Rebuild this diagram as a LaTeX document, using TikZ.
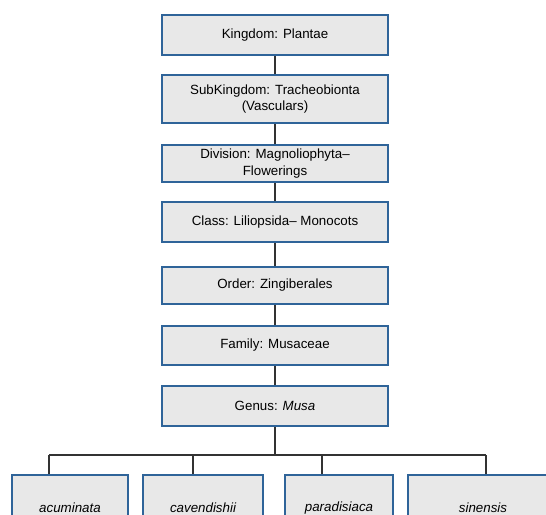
\documentclass[tikz,border=0pt]{standalone}
\usepackage{fontspec}
\setmainfont{Liberation Sans}
\usetikzlibrary{shapes}

\definecolor{rankblue}{HTML}{2F6499}
\definecolor{rankgray}{HTML}{E8E8E8}
\definecolor{linkgray}{HTML}{333333}

\tikzset{
    rank/.style={rectangle, draw=rankblue, line width=1.9pt, fill=rankgray,
        minimum width=169.5pt, minimum height=30pt, inner sep=2pt,
        align=center, font=\fontsize{10}{12.5}\selectfont},
    species/.style={rank, minimum height=49.5pt, font=\fontsize{10}{12.5}\selectfont\itshape},
    link/.style={draw=linkgray, line width=0.8pt}
}

\begin{document}
\begin{tikzpicture}[x=0.75pt, y=-0.75pt]
    \path [use as bounding box] (0,0) rectangle (546,514);
    \clip (0,0) rectangle (546,514);

    \node [rank] (kingdom) at (275,35) {Kingdom: Plantae};
    \node [rank, minimum height=36pt] (subkingdom) at (275,99) {SubKingdom: Tracheobionta\\(Vasculars)};
    \node [rank, minimum height=27.75pt] (division) at (275,163.5) {Division: Magnoliophyta--\\Flowerings};
    \node [rank] (class) at (275,222) {Class: Liliopsida-- Monocots};
    \node [rank, minimum height=27.75pt] (order) at (275,285.5) {Order: Zingiberales};
    \node [rank, minimum height=29.25pt] (family) at (275,345.5) {Family: Musaceae};
    \node [rank] (genus) at (275,406) {Genus: \textit{Musa}};

    \draw [link] (kingdom) -- (subkingdom);
    \draw [link] (subkingdom) -- (division);
    \draw [link] (division) -- (class);
    \draw [link] (class) -- (order);
    \draw [link] (order) -- (family);
    \draw [link] (family) -- (genus);

    \node [species, minimum width=87pt] (acuminata) at (70,508) {acuminata};
    \node [species, minimum width=90pt] (cavendishii) at (203,508) {cavendishii};
    \node [species, minimum width=81pt] (paradisiaca) at (339,508) {paradisiaca};
    \node [species, minimum width=112.5pt] (sinensis) at (483,508) {sinensis};

    % bus under the genus
    \coordinate (drop1) at (49,455);
    \coordinate (drop2) at (193,455);
    \coordinate (drop3) at (322,455);
    \coordinate (drop4) at (486,455);

    \draw [link] (genus) -- (genus |- drop1);
    \draw [link] (drop1) -- (drop4);
    \draw [link] (drop1) -- (drop1 |- acuminata.north);
    \draw [link] (drop2) -- (drop2 |- cavendishii.north);
    \draw [link] (drop3) -- (drop3 |- paradisiaca.north);
    \draw [link] (drop4) -- (drop4 |- sinensis.north);
\end{tikzpicture}
\end{document}
